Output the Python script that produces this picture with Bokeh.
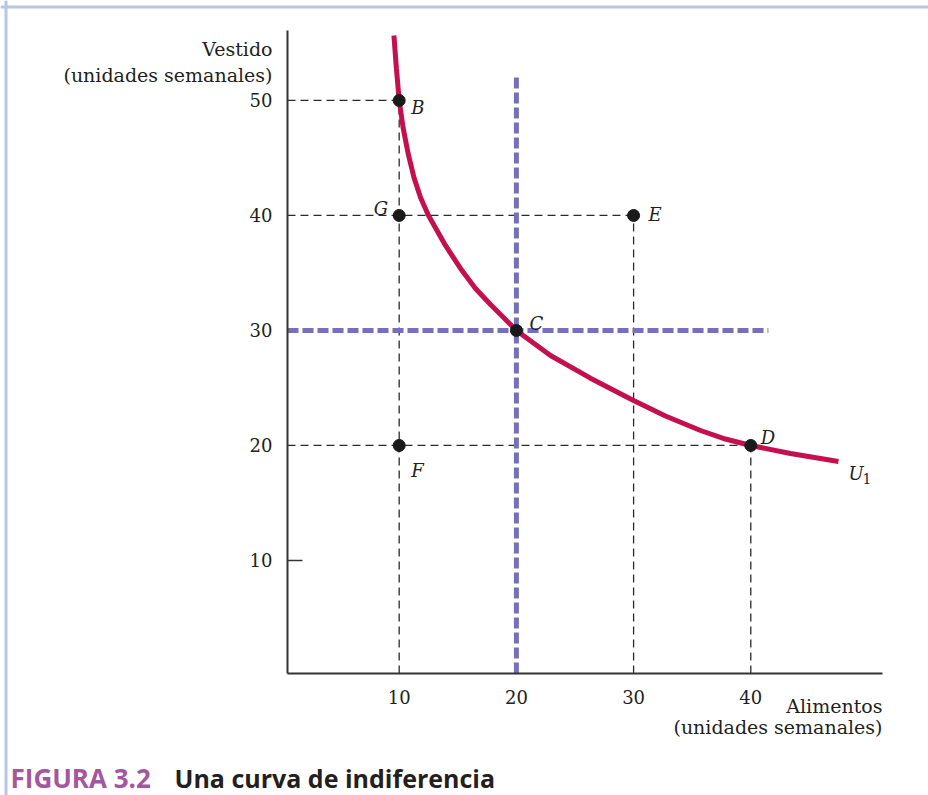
from bokeh.plotting import figure
from bokeh.models import Range1d, FixedTicker, Label, ColumnDataSource, Span
from bokeh.embed import file_html
from bokeh.resources import INLINE

# ---------------- data ----------------
point_names = ["B", "G", "E", "C", "F", "D"]
point_food = [10, 10, 30, 20, 10, 40]        # Alimentos
point_clothing = [50, 40, 40, 30, 20, 20]    # Vestido

curve_food = [9.55, 9.76, 10.0, 10.33, 10.76, 11.26, 11.82, 12.5, 13.95, 15.23, 16.51,
              17.79, 20.0, 22.91, 26.32, 29.91, 32.72, 35.71, 37.84, 40.0, 43.39, 47.48]
curve_clothing = [55.65, 52.8, 50.0, 47.65, 45.4, 43.3, 41.56, 40.0, 37.39, 35.39, 33.65,
                  32.26, 30.0, 27.82, 25.85, 23.95, 22.56, 21.3, 20.56, 20.0, 19.3, 18.6]

x_ticks = [10, 20, 30, 40]
y_ticks = [10, 20, 30, 40, 50]
guide_points = ["B", "E", "D"]      # points with dashed guides to both axes
market_point = "C"                  # purple dashed cross through C
purple_v_top = 52.1
purple_h_right = 41.5

# ---------------- geometry ----------------
W, H = 928, 795
PAGE0 = 0                             # canvas origin on the page (x and y)
SX, SY = 11.72, 11.5                  # px per unit
AX0, AY0 = 0.47, 0.17                 # data values where the axes sit
AXIS_X_PX, AXIS_Y_PX = 287, 673       # page px of the y axis / x axis
x_start = AX0 - (AXIS_X_PX - PAGE0) / SX
x_end = x_start + W / SX
y_end = AY0 + (AXIS_Y_PX - PAGE0) / SY
y_start = y_end - H / SY
x_axis_end = AX0 + (882 - AXIS_X_PX) / SX
y_axis_top = AY0 + (AXIS_Y_PX - 30) / SY

def at(px, py):
    return x_start + (px - PAGE0) / SX, y_end - (py - PAGE0) / SY

p = figure(width=W, height=H, output_backend="svg", toolbar_location=None,
           x_range=Range1d(x_start, x_end), y_range=Range1d(y_start, y_end),
           min_border=0, background_fill_color="white", border_fill_color="white")
p.outline_line_color = None
p.grid.visible = False

SERIF = "DejaVu Serif"
TXT = "#231f20"

# axes (fixed inside the frame)
p.xaxis.fixed_location = AY0
p.xaxis.bounds = (AX0, x_axis_end)
p.yaxis.fixed_location = AX0
p.yaxis.bounds = (AY0, y_axis_top)
p.xaxis.ticker = FixedTicker(ticks=x_ticks)
p.yaxis.ticker = FixedTicker(ticks=y_ticks, minor_ticks=[10])
p.axis.major_tick_in = 0
p.axis.major_tick_out = 0
p.xaxis.minor_tick_line_color = None
p.yaxis.minor_tick_in = 15
p.yaxis.minor_tick_out = 0
p.yaxis.minor_tick_line_width = 1.5
p.yaxis.minor_tick_line_color = "#333333"
p.axis.axis_line_width = 2
p.axis.axis_line_color = "#333333"
p.axis.major_label_text_font = SERIF
p.axis.major_label_text_font_size = "18px"
p.axis.major_label_text_color = TXT
p.xaxis.major_label_standoff = 16
p.yaxis.major_label_standoff = 15

# light blue page border
bx, by = at(5.5, 6.5)
p.add_layout(Span(location=bx, dimension="height", line_color="#b4c7e7", line_width=3))
p.add_layout(Span(location=by, dimension="width", line_color="#b4c7e7", line_width=3))

idx = {n: i for i, n in enumerate(point_names)}

# thin dashed guides
for n in guide_points:
    i = idx[n]
    p.line([AX0, point_food[i]], [point_clothing[i]] * 2,
           line_color="#2b2b2b", line_width=1.3, line_dash="8 5")
    p.line([point_food[i]] * 2, [AY0, point_clothing[i]],
           line_color="#2b2b2b", line_width=1.3, line_dash="8 5")

# purple dashed cross through C
c = idx[market_point]
p.line([point_food[c]] * 2, [AY0, purple_v_top],
       line_color="#7670b8", line_width=5, line_dash="11 4")
p.line([AX0, purple_h_right], [point_clothing[c]] * 2,
       line_color="#7670b8", line_width=5, line_dash="11 4")

# indifference curve
p.line(curve_food, curve_clothing, line_color="#c4104f", line_width=5)

# points
src = ColumnDataSource(dict(x=point_food, y=point_clothing, name=point_names))
p.scatter("x", "y", source=src, size=12, fill_color="#1a1a1a", line_color="#1a1a1a")

# point labels (offsets in screen px)
label_style = {
    "B": (12, -7, "left"),
    "G": (-11, 7, "right"),
    "E": (15, 1, "left"),
    "C": (13, 7, "left"),
    "F": (12, -25, "left"),
    "D": (10, 8, "left"),
}
for n in point_names:
    i = idx[n]
    dx, dy, al = label_style[n]
    p.add_layout(Label(x=point_food[i], y=point_clothing[i], x_offset=dx, y_offset=dy,
                       text=n, text_align=al, text_baseline="alphabetic",
                       text_font=SERIF, text_font_style="italic",
                       text_font_size="18px", text_color=TXT))

# curve label U1
p.add_layout(Label(x=curve_food[-1], y=curve_clothing[-1], x_offset=10, y_offset=-12,
                   text="U", text_align="left", text_baseline="alphabetic",
                   text_font=SERIF, text_font_style="italic",
                   text_font_size="18px", text_color=TXT))
p.add_layout(Label(x=curve_food[-1], y=curve_clothing[-1], x_offset=24, y_offset=-17,
                   text="1", text_align="left", text_baseline="alphabetic",
                   text_font=SERIF, text_font_size="14px", text_color=TXT))

# axis titles and caption
def title(text, px, py, align="right", size="19px", font=SERIF, color=TXT, style="normal"):
    x, y = at(px, py)
    p.add_layout(Label(x=x, y=y, text=text, text_align=align, text_baseline="alphabetic",
                       text_font=font, text_font_size=size, text_color=color,
                       text_font_style=style))

title("Vestido", 272, 48)
title("(unidades semanales)", 272, 74)
title("Alimentos", 882, 705)
title("(unidades semanales)", 882, 726)

title("FIGURA 3.2", 10, 777, align="left", size="26px", font="Open Sans",
      color="#a3579f", style="bold")
title("Una curva de indiferencia", 174, 777, align="left", size="25px",
      font="Open Sans", color=TXT, style="bold")

open("out.html", "w").write(file_html(p, INLINE))
